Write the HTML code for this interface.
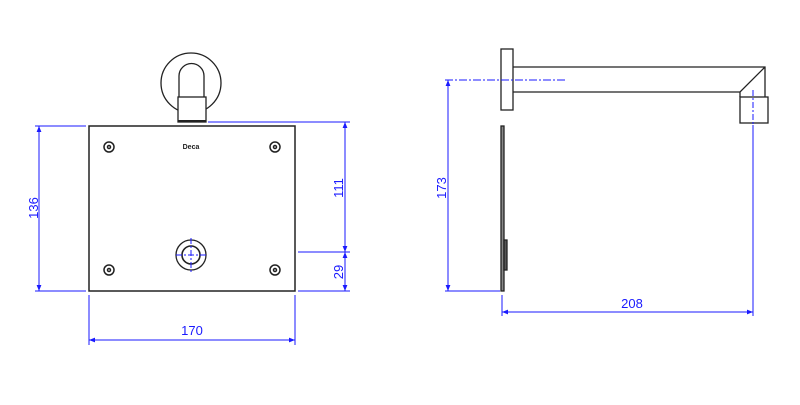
<!DOCTYPE html>
<html><head><style>body{margin:0;background:#fff}svg{display:block}</style></head><body>
<svg width="800" height="405" viewBox="0 0 800 405" xmlns="http://www.w3.org/2000/svg" font-family="Liberation Sans, sans-serif">
<defs>
<marker id="a" viewBox="0 0 10 10" refX="10" refY="5" markerWidth="8" markerHeight="6" orient="auto-start-reverse"><path d="M0,1 L10,5 L0,9z" fill="#1a1aff"/></marker>
</defs>
<g fill="none" stroke="#222" stroke-width="1.3">
<circle cx="191" cy="83" r="30"/>
<path d="M179,97 V76 A12.5,12.5 0 0 1 204,76 V97" fill="#fff"/>
<rect x="178" y="97" width="28" height="25" fill="#fff"/>
<line x1="178" y1="121" x2="206" y2="121" stroke-width="2"/>
<rect x="89" y="126" width="206" height="165" stroke-width="1.5"/>
<g stroke-width="1.5">
<circle cx="109" cy="147" r="5"/><circle cx="109" cy="147" r="1.5"/>
<circle cx="275" cy="147" r="5"/><circle cx="275" cy="147" r="1.5"/>
<circle cx="109" cy="270" r="5"/><circle cx="109" cy="270" r="1.5"/>
<circle cx="275" cy="270" r="5"/><circle cx="275" cy="270" r="1.5"/>
</g>
<circle cx="191" cy="255" r="15"/>
<circle cx="191" cy="255" r="9" stroke-width="1.6"/>
<rect x="501" y="49" width="12" height="61"/>
<path d="M513,67 H765 V97 M513,92 H740 L765,67 M740,92 V97"/>
<rect x="740" y="97" width="28" height="26"/>
<rect x="501" y="126" width="3" height="165" fill="#888"/>
<rect x="504" y="240" width="3" height="30" fill="#555"/>
</g>
<text x="191" y="149" font-size="7" font-weight="bold" text-anchor="middle" fill="#222">Deca</text>
<g stroke="#1a1aff" stroke-width="1" fill="none">
<line x1="176" y1="255" x2="206" y2="255" stroke-dasharray="6,2,2,2"/>
<line x1="191" y1="238" x2="191" y2="272" stroke-dasharray="6,2,2,2"/>
<line x1="35" y1="126" x2="86" y2="126"/>
<line x1="35" y1="291" x2="86" y2="291"/>
<line x1="39" y1="126" x2="39" y2="291" marker-start="url(#a)" marker-end="url(#a)"/>
<line x1="208" y1="122" x2="350" y2="122"/>
<line x1="298" y1="252" x2="350" y2="252"/>
<line x1="298" y1="291" x2="350" y2="291"/>
<line x1="345" y1="122" x2="345" y2="252" marker-start="url(#a)" marker-end="url(#a)"/>
<line x1="345" y1="252" x2="345" y2="291" marker-start="url(#a)" marker-end="url(#a)"/>
<line x1="89" y1="295" x2="89" y2="345"/>
<line x1="295" y1="295" x2="295" y2="345"/>
<line x1="89" y1="340" x2="295" y2="340" marker-start="url(#a)" marker-end="url(#a)"/>
<line x1="445" y1="80" x2="565" y2="80" stroke-dasharray="8,2,2,2"/>
<line x1="753" y1="90" x2="753" y2="125" stroke-dasharray="6,2,2,2"/>
<line x1="753" y1="125" x2="753" y2="316"/>
<line x1="445" y1="291" x2="500" y2="291"/>
<line x1="448" y1="80" x2="448" y2="291" marker-start="url(#a)" marker-end="url(#a)"/>
<line x1="502" y1="295" x2="502" y2="316"/>
<line x1="502" y1="312" x2="753" y2="312" marker-start="url(#a)" marker-end="url(#a)"/>
</g>
<g fill="#1a1aff" font-size="13">
<text x="38" y="208" text-anchor="middle" transform="rotate(-90 38 208)">136</text>
<text x="343" y="188" text-anchor="middle" transform="rotate(-90 343 188)">111</text>
<text x="343" y="272" text-anchor="middle" transform="rotate(-90 343 272)">29</text>
<text x="192" y="335" text-anchor="middle">170</text>
<text x="446" y="188" text-anchor="middle" transform="rotate(-90 446 188)">173</text>
<text x="632" y="308" text-anchor="middle">208</text>
</g>
</svg>
</body></html>
